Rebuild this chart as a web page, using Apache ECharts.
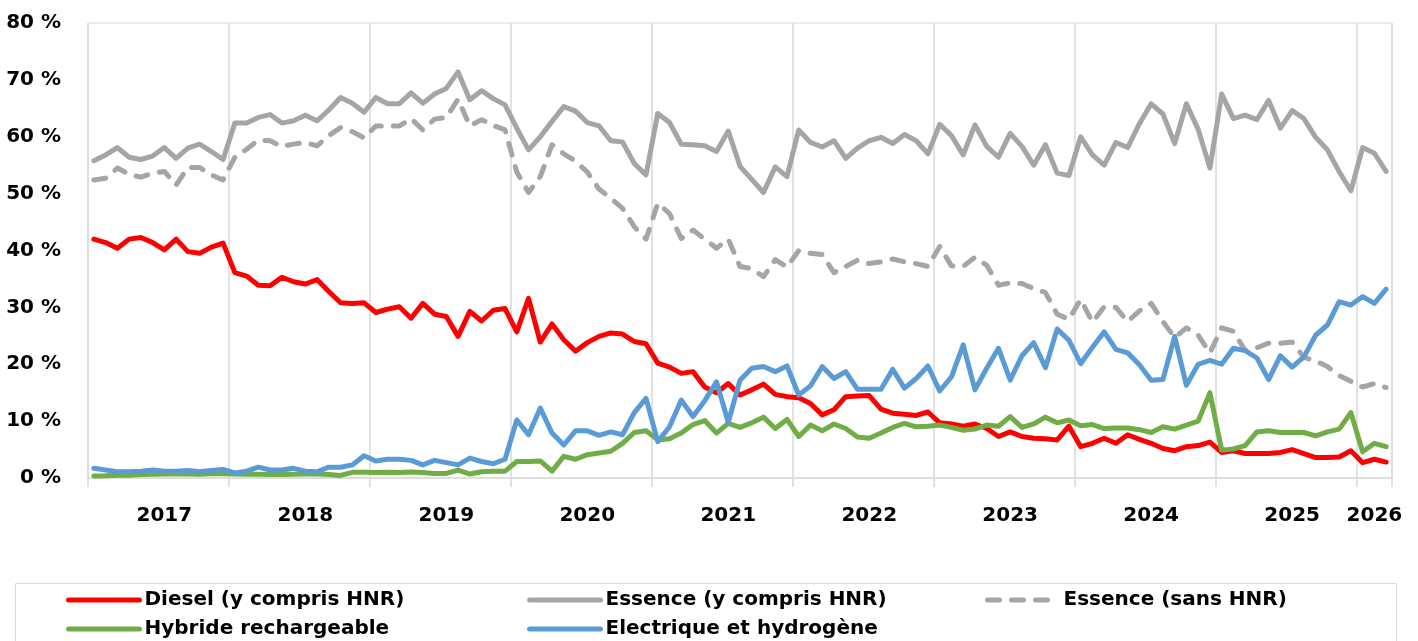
<!DOCTYPE html>
<html><head><meta charset="utf-8">
<script src="https://cdn.jsdelivr.net/npm/echarts@6/dist/echarts.min.js"></script>
<style>html,body{margin:0;padding:0;background:#fff}#c{width:1418px;height:641px}</style>
</head><body><div id="c"></div>
<script>
// Monthly categories: Jan 2017 .. Mar 2026
const firstYear = 2017, lastYear = 2026, lastMonth = 3;
const months = [];
for (let y = firstYear; y <= lastYear; y++) {
  const mMax = y === lastYear ? lastMonth : 12;
  for (let m = 1; m <= mMax; m++) months.push(y + '-' + String(m).padStart(2, '0'));
}

const seriesNames = ['Diesel (y compris HNR)', 'Essence (y compris HNR)', 'Essence (sans HNR)', 'Hybride rechargeable', 'Electrique et hydrogène'];

const diesel = [
  42.0, 41.4, 40.4, 42.0, 42.3, 41.4, 40.1, 42.0, 39.8, 39.5, 40.6, 41.3,
  36.1, 35.5, 33.9, 33.8, 35.3, 34.5, 34.1, 34.9, 32.8, 30.8, 30.7, 30.8,
  29.1, 29.7, 30.1, 28.1, 30.7, 28.8, 28.4, 24.9, 29.3, 27.6, 29.5, 29.8,
  25.7, 31.6, 23.9, 27.1, 24.3, 22.3, 23.8, 24.9, 25.5, 25.3, 24.0, 23.6,
  20.2, 19.5, 18.4, 18.7, 16.0, 15.0, 16.6, 14.6, 15.5, 16.5, 14.7, 14.3,
  14.1, 13.1, 11.1, 12.0, 14.3, 14.4, 14.5, 12.1, 11.4, 11.2, 11.0, 11.6,
  9.7, 9.5, 9.1, 9.5, 8.7, 7.3, 8.1, 7.3, 7.0, 6.9, 6.7, 9.1,
  5.5, 6.1, 7.0, 6.1, 7.6, 6.8, 6.1, 5.2, 4.8, 5.5, 5.7, 6.3,
  4.5, 4.8, 4.3, 4.3, 4.3, 4.5, 5.0, 4.3, 3.6, 3.6, 3.7, 4.8,
  2.7, 3.3, 2.8
];
const essence = [
  55.8, 56.8, 58.1, 56.4, 56.0, 56.6, 58.1, 56.2, 58.0, 58.7, 57.4, 56.0,
  62.4, 62.4, 63.4, 63.9, 62.4, 62.8, 63.8, 62.8, 64.7, 66.9, 65.9, 64.3,
  66.9, 65.8, 65.8, 67.7, 65.9, 67.5, 68.5, 71.4, 66.5, 68.1, 66.7, 65.6,
  61.5, 57.7, 60.0, 62.7, 65.3, 64.5, 62.5, 61.9, 59.3, 59.1, 55.3, 53.3,
  64.1, 62.5, 58.7, 58.6, 58.4, 57.4, 61.0, 54.8, 52.5, 50.2, 54.7, 53.0,
  61.2, 59.0, 58.2, 59.3, 56.2, 58.0, 59.3, 59.9, 58.8, 60.4, 59.3, 57.0,
  62.2, 60.2, 56.8, 62.1, 58.3, 56.4, 60.6, 58.3, 55.0, 58.6, 53.6, 53.2,
  60.0, 56.8, 55.0, 59.0, 58.1, 62.3, 65.8, 64.0, 58.8, 65.8, 61.3, 54.5,
  67.5, 63.2, 63.8, 63.0, 66.4, 61.5, 64.6, 63.2, 59.9, 57.7, 53.9, 50.5,
  58.1, 57.1, 53.9
];
const essenceSansHNR = [
  52.4, 52.7, 54.5, 53.4, 52.9, 53.6, 53.9, 51.5, 54.6, 54.6, 53.3, 52.4,
  56.4, 57.8, 59.4, 59.3, 58.3, 58.7, 59.0, 58.4, 60.2, 61.6, 60.9, 59.8,
  61.9, 61.9, 61.9, 63.2, 61.2, 63.1, 63.4, 66.6, 61.9, 63.0, 62.0, 61.2,
  53.8, 50.2, 53.0, 58.6, 57.0, 55.7, 53.8, 50.8, 49.2, 47.4, 44.2, 42.0,
  48.3, 46.5, 42.1, 43.6, 42.0, 40.4, 42.0, 37.2, 36.8, 35.4, 38.4, 37.1,
  40.0, 39.5, 39.3, 36.1, 37.2, 38.3, 37.7, 38.0, 38.5, 38.0, 37.7, 37.2,
  40.7, 37.3, 37.2, 38.8, 37.4, 33.9, 34.3, 34.2, 33.3, 32.6, 28.8, 27.9,
  31.4, 27.4, 30.1, 30.0, 27.5, 29.4, 30.7, 27.5, 24.7, 26.4, 25.1, 22.0,
  26.4, 25.8, 22.4, 22.9, 23.7, 23.7, 23.9, 21.2, 20.6, 19.6, 18.0, 17.0,
  16.0, 16.6, 15.9
];
const hybride = [
  0.35, 0.4, 0.5, 0.5, 0.6, 0.65, 0.7, 0.7, 0.7, 0.65, 0.75, 0.75,
  0.7, 0.65, 0.65, 0.6, 0.6, 0.65, 0.7, 0.7, 0.6, 0.45, 1.0, 1.0,
  0.95, 1.0, 0.95, 1.05, 0.95, 0.8, 0.8, 1.4, 0.7, 1.1, 1.2, 1.2,
  2.9, 2.9, 3.0, 1.2, 3.8, 3.3, 4.1, 4.4, 4.7, 6.1, 8.0, 8.3,
  6.7, 6.9, 7.9, 9.4, 10.1, 7.9, 9.6, 8.9, 9.7, 10.7, 8.7, 10.3,
  7.3, 9.3, 8.3, 9.5, 8.7, 7.2, 7.0, 7.9, 8.9, 9.6, 9.0, 9.1,
  9.3, 8.9, 8.4, 8.6, 9.3, 9.1, 10.8, 8.9, 9.5, 10.7, 9.7, 10.2,
  9.2, 9.4, 8.7, 8.8, 8.8, 8.5, 8.0, 9.0, 8.6, 9.3, 10.0, 15.0,
  4.9, 5.1, 5.7, 8.1, 8.3, 8.0, 8.0, 8.0, 7.4, 8.1, 8.6, 11.5,
  4.6, 6.1, 5.5
];
const electrique = [
  1.7, 1.4, 1.1, 1.1, 1.2, 1.4, 1.2, 1.2, 1.3, 1.1, 1.3, 1.5,
  0.9, 1.2, 1.9, 1.4, 1.4, 1.7, 1.2, 1.1, 1.9, 1.9, 2.3, 3.9,
  3.0, 3.3, 3.3, 3.1, 2.3, 3.1, 2.7, 2.3, 3.5, 2.9, 2.5, 3.3,
  10.2, 7.6, 12.3, 7.9, 5.8, 8.3, 8.3, 7.5, 8.1, 7.6, 11.5, 14.0,
  6.4, 9.0, 13.7, 10.8, 13.6, 16.9, 9.8, 17.2, 19.3, 19.6, 18.7, 19.7,
  14.6, 16.2, 19.6, 17.5, 18.7, 15.6, 15.6, 15.6, 19.1, 15.8, 17.5, 19.7,
  15.3, 17.8, 23.4, 15.5, 19.3, 22.8, 17.2, 21.5, 23.8, 19.4, 26.2, 24.2,
  20.1, 23.0, 25.7, 22.6, 22.0, 19.9, 17.2, 17.3, 24.9, 16.3, 20.0, 20.7,
  20.0, 22.8, 22.4, 21.1, 17.3, 21.5, 19.5, 21.3, 25.1, 26.9, 31.0, 30.4,
  31.9, 30.7, 33.2
];

const yTicks = { min: 0, max: 80, interval: 10 };

const F = 'DejaVu Sans';
const GRID_COL = '#D9D9D9';
const colors = ['#FF0000', '#A5A5A5', '#A5A5A5', '#70AD47', '#5B9BD5'];
const values = [diesel, essence, essenceSansHNR, hybride, electrique];

const chart = echarts.init(document.getElementById('c'), null, { renderer: 'canvas' });

const isYearStart = (i) => i % 12 === 0;
const lastIdx = months.length - 1;
const isLabel = (i) => i % 12 === 6 || i === lastIdx - 1;

function leg(name, left, top) {
  return {
    data: [name], left: left, top: top, orient: 'horizontal',
    itemWidth: 71, itemHeight: 20, itemGap: 0, padding: 0,
    selectedMode: false,
    lineStyle: { width: 5 },
    itemStyle: { opacity: 0, borderWidth: 0 },
    textStyle: { fontFamily: F, fontWeight: 'bold', fontSize: 20, color: '#000' }
  };
}

const option = {
  animation: false,
  backgroundColor: '#fff',
  grid: { left: 88, right: 26, top: 23, bottom: 163, show: true, borderColor: GRID_COL, borderWidth: 1, containLabel: false },
  xAxis: {
    type: 'category', data: months, boundaryGap: true,
    axisLine: { show: true, lineStyle: { color: GRID_COL, width: 1.5 } },
    axisTick: { show: true, interval: (i) => isYearStart(i), length: 9, lineStyle: { color: GRID_COL, width: 1.5 } },
    splitLine: { show: true, interval: (i) => isYearStart(i), lineStyle: { color: GRID_COL, width: 1.5 } },
    axisLabel: {
      interval: (i) => isLabel(i), formatter: (v) => v.slice(0, 4),
      fontFamily: F, fontWeight: 'bold', fontSize: 20, color: '#000', margin: 28
    }
  },
  yAxis: {
    type: 'value', min: yTicks.min, max: yTicks.max, interval: yTicks.interval,
    axisLine: { show: false }, axisTick: { show: false }, splitLine: { show: false },
    axisLabel: { formatter: '{value} %', fontFamily: F, fontWeight: 'bold', fontSize: 20, color: '#000', margin: 27 }
  },
  legend: [
    leg(seriesNames[0], 66, 590),
    leg(seriesNames[1], 527, 590),
    leg(seriesNames[2], 985, 590),
    leg(seriesNames[3], 66, 619),
    leg(seriesNames[4], 527, 619)
  ],
  graphic: [{
    type: 'rect', shape: { x: 15.5, y: 583.5, width: 1381, height: 80 },
    style: { fill: 'none', stroke: GRID_COL, lineWidth: 1 }, silent: true, z: -1
  }],
  series: seriesNames.map((n, k) => ({
    name: n, type: 'line', data: values[k], symbol: 'none', smooth: false,
    color: colors[k],
    lineStyle: {
      color: colors[k], width: 5, join: 'round', cap: 'round',
      type: k === 2 ? [12, 12] : 'solid'
    },
    z: 2 + k
  }))
};
chart.setOption(option);
</script>
</body></html>
